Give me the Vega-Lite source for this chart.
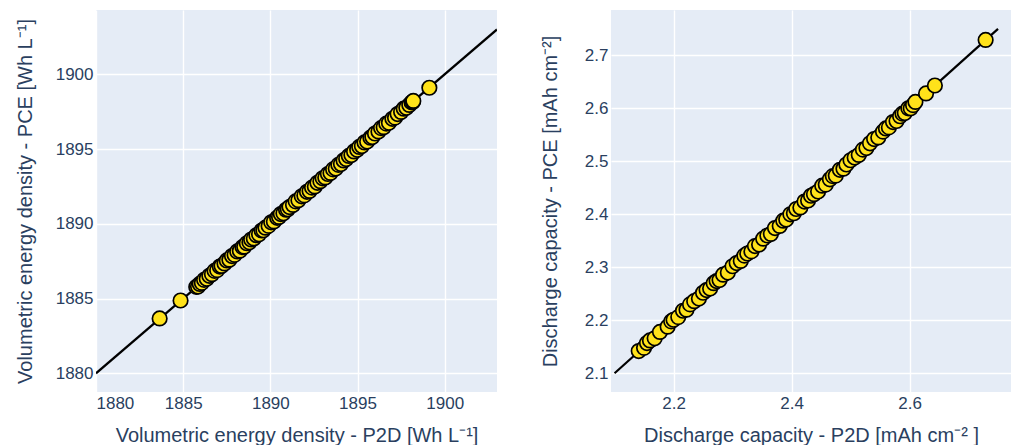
{
  "$schema": "https://vega.github.io/schema/vega-lite/v6.json",
  "padding": {"left": 15, "top": 10, "right": 0, "bottom": 0},
  "background": "white",
  "spacing": 114,
  "bounds": "flush",
  "config": {
    "font": "Liberation Sans",
    "view": {"fill": "#E5ECF6", "stroke": null},
    "axis": {
      "domain": false, "ticks": false, "grid": true, "gridColor": "#ffffff", "gridWidth": 1.4,
      "labelFont": "Liberation Sans", "labelFontSize": 17, "labelColor": "#2a3f5f",
      "titleFont": "Liberation Sans", "titleFontSize": 20, "titleColor": "#2a3f5f", "titleFontWeight": "normal",
      "labelPadding": 3
    }
  },
  "datasets": {
    "ved": [
      {"p2d": 1883.65, "pce": 1883.67}, {"p2d": 1884.85, "pce": 1884.87}, {"p2d": 1885.75, "pce": 1885.78}, {"p2d": 1885.85, "pce": 1885.8},
      {"p2d": 1885.95, "pce": 1885.98}, {"p2d": 1886.07, "pce": 1886.05}, {"p2d": 1886.2, "pce": 1886.25}, {"p2d": 1886.35, "pce": 1886.32},
      {"p2d": 1886.5, "pce": 1886.52}, {"p2d": 1886.65, "pce": 1886.63}, {"p2d": 1886.8, "pce": 1886.85}, {"p2d": 1886.95, "pce": 1886.9},
      {"p2d": 1887.1, "pce": 1887.14}, {"p2d": 1887.2, "pce": 1887.18}, {"p2d": 1887.37, "pce": 1887.35}, {"p2d": 1887.5, "pce": 1887.55},
      {"p2d": 1887.65, "pce": 1887.6}, {"p2d": 1887.8, "pce": 1887.84}, {"p2d": 1887.95, "pce": 1887.92}, {"p2d": 1888.1, "pce": 1888.15},
      {"p2d": 1888.25, "pce": 1888.2}, {"p2d": 1888.4, "pce": 1888.44}, {"p2d": 1888.5, "pce": 1888.47}, {"p2d": 1888.65, "pce": 1888.7},
      {"p2d": 1888.8, "pce": 1888.76}, {"p2d": 1888.9, "pce": 1888.95}, {"p2d": 1889.05, "pce": 1889.02}, {"p2d": 1889.2, "pce": 1889.24},
      {"p2d": 1889.35, "pce": 1889.3}, {"p2d": 1889.5, "pce": 1889.55}, {"p2d": 1889.6, "pce": 1889.57}, {"p2d": 1889.72, "pce": 1889.74},
      {"p2d": 1889.9, "pce": 1889.86}, {"p2d": 1890.05, "pce": 1890.1}, {"p2d": 1890.2, "pce": 1890.16}, {"p2d": 1890.39, "pce": 1890.4},
      {"p2d": 1890.5, "pce": 1890.46}, {"p2d": 1890.6, "pce": 1890.65}, {"p2d": 1890.75, "pce": 1890.7}, {"p2d": 1890.9, "pce": 1890.94},
      {"p2d": 1891.0, "pce": 1890.97}, {"p2d": 1891.1, "pce": 1891.12}, {"p2d": 1891.3, "pce": 1891.26}, {"p2d": 1891.45, "pce": 1891.5},
      {"p2d": 1891.61, "pce": 1891.58}, {"p2d": 1891.8, "pce": 1891.84}, {"p2d": 1891.95, "pce": 1891.9}, {"p2d": 1892.1, "pce": 1892.14},
      {"p2d": 1892.25, "pce": 1892.2}, {"p2d": 1892.39, "pce": 1892.42}, {"p2d": 1892.55, "pce": 1892.5}, {"p2d": 1892.7, "pce": 1892.74},
      {"p2d": 1892.87, "pce": 1892.85}, {"p2d": 1893.0, "pce": 1893.04}, {"p2d": 1893.15, "pce": 1893.1}, {"p2d": 1893.3, "pce": 1893.33},
      {"p2d": 1893.45, "pce": 1893.4}, {"p2d": 1893.6, "pce": 1893.64}, {"p2d": 1893.75, "pce": 1893.7}, {"p2d": 1893.9, "pce": 1893.94},
      {"p2d": 1894.05, "pce": 1894.0}, {"p2d": 1894.2, "pce": 1894.24}, {"p2d": 1894.35, "pce": 1894.33}, {"p2d": 1894.5, "pce": 1894.54},
      {"p2d": 1894.65, "pce": 1894.6}, {"p2d": 1894.8, "pce": 1894.84}, {"p2d": 1894.98, "pce": 1894.95}, {"p2d": 1895.1, "pce": 1895.14},
      {"p2d": 1895.25, "pce": 1895.2}, {"p2d": 1895.4, "pce": 1895.44}, {"p2d": 1895.55, "pce": 1895.5}, {"p2d": 1895.74, "pce": 1895.76},
      {"p2d": 1895.85, "pce": 1895.8}, {"p2d": 1896.0, "pce": 1896.04}, {"p2d": 1896.2, "pce": 1896.18}, {"p2d": 1896.35, "pce": 1896.4},
      {"p2d": 1896.5, "pce": 1896.46}, {"p2d": 1896.65, "pce": 1896.7}, {"p2d": 1896.8, "pce": 1896.76}, {"p2d": 1897.0, "pce": 1897.02},
      {"p2d": 1897.15, "pce": 1897.1}, {"p2d": 1897.3, "pce": 1897.34}, {"p2d": 1897.5, "pce": 1897.48}, {"p2d": 1897.65, "pce": 1897.7},
      {"p2d": 1897.8, "pce": 1897.76}, {"p2d": 1897.97, "pce": 1897.95}, {"p2d": 1898.1, "pce": 1898.12}, {"p2d": 1898.17, "pce": 1898.15},
      {"p2d": 1898.2, "pce": 1898.22}, {"p2d": 1899.12, "pce": 1899.1}
    ],
    "ved_line": [{"p2d": 1880, "pce": 1880}, {"p2d": 1903, "pce": 1903}],
    "cap": [
      {"p2d": 2.141, "pce": 2.142}, {"p2d": 2.15, "pce": 2.148}, {"p2d": 2.155, "pce": 2.157}, {"p2d": 2.16, "pce": 2.162},
      {"p2d": 2.168, "pce": 2.166}, {"p2d": 2.177, "pce": 2.178}, {"p2d": 2.19, "pce": 2.188}, {"p2d": 2.196, "pce": 2.198},
      {"p2d": 2.2, "pce": 2.201}, {"p2d": 2.208, "pce": 2.206}, {"p2d": 2.216, "pce": 2.218}, {"p2d": 2.222, "pce": 2.22},
      {"p2d": 2.228, "pce": 2.23}, {"p2d": 2.235, "pce": 2.236}, {"p2d": 2.243, "pce": 2.241}, {"p2d": 2.25, "pce": 2.252},
      {"p2d": 2.256, "pce": 2.257}, {"p2d": 2.262, "pce": 2.26}, {"p2d": 2.268, "pce": 2.27}, {"p2d": 2.273, "pce": 2.274},
      {"p2d": 2.278, "pce": 2.276}, {"p2d": 2.284, "pce": 2.286}, {"p2d": 2.292, "pce": 2.29}, {"p2d": 2.3, "pce": 2.302},
      {"p2d": 2.307, "pce": 2.308}, {"p2d": 2.314, "pce": 2.312}, {"p2d": 2.32, "pce": 2.322}, {"p2d": 2.325, "pce": 2.326},
      {"p2d": 2.332, "pce": 2.33}, {"p2d": 2.338, "pce": 2.34}, {"p2d": 2.345, "pce": 2.343}, {"p2d": 2.352, "pce": 2.354},
      {"p2d": 2.359, "pce": 2.36}, {"p2d": 2.365, "pce": 2.363}, {"p2d": 2.372, "pce": 2.374}, {"p2d": 2.38, "pce": 2.378},
      {"p2d": 2.386, "pce": 2.388}, {"p2d": 2.391, "pce": 2.39}, {"p2d": 2.398, "pce": 2.4}, {"p2d": 2.404, "pce": 2.402},
      {"p2d": 2.408, "pce": 2.41}, {"p2d": 2.415, "pce": 2.413}, {"p2d": 2.422, "pce": 2.424}, {"p2d": 2.428, "pce": 2.426},
      {"p2d": 2.433, "pce": 2.435}, {"p2d": 2.438, "pce": 2.438}, {"p2d": 2.445, "pce": 2.443}, {"p2d": 2.452, "pce": 2.454},
      {"p2d": 2.458, "pce": 2.456}, {"p2d": 2.465, "pce": 2.466}, {"p2d": 2.47, "pce": 2.472}, {"p2d": 2.475, "pce": 2.473},
      {"p2d": 2.482, "pce": 2.484}, {"p2d": 2.488, "pce": 2.486}, {"p2d": 2.493, "pce": 2.494}, {"p2d": 2.5, "pce": 2.502},
      {"p2d": 2.507, "pce": 2.507}, {"p2d": 2.514, "pce": 2.512}, {"p2d": 2.521, "pce": 2.522}, {"p2d": 2.527, "pce": 2.525},
      {"p2d": 2.533, "pce": 2.534}, {"p2d": 2.54, "pce": 2.542}, {"p2d": 2.547, "pce": 2.545}, {"p2d": 2.555, "pce": 2.556},
      {"p2d": 2.56, "pce": 2.562}, {"p2d": 2.565, "pce": 2.564}, {"p2d": 2.572, "pce": 2.574}, {"p2d": 2.578, "pce": 2.576},
      {"p2d": 2.584, "pce": 2.585}, {"p2d": 2.588, "pce": 2.59}, {"p2d": 2.592, "pce": 2.591}, {"p2d": 2.598, "pce": 2.6},
      {"p2d": 2.602, "pce": 2.6}, {"p2d": 2.606, "pce": 2.606}, {"p2d": 2.61, "pce": 2.612}, {"p2d": 2.628, "pce": 2.628},
      {"p2d": 2.643, "pce": 2.643}, {"p2d": 2.729, "pce": 2.729}
    ],
    "cap_line": [{"p2d": 2.1, "pce": 2.1}, {"p2d": 2.75, "pce": 2.75}]
  },
  "hconcat": [
    {
      "width": 401, "height": 382,
      "layer": [
        {
          "data": {"name": "ved_line"},
          "mark": {"type": "line", "color": "#000000", "strokeWidth": 2.2, "clip": true},
          "encoding": {
            "x": {"field": "p2d", "type": "quantitative"},
            "y": {"field": "pce", "type": "quantitative"}
          }
        },
        {
          "data": {"name": "ved"},
          "mark": {"type": "point", "filled": true, "fill": "#ffe21a", "stroke": "#000000", "strokeWidth": 1.7, "size": 210, "opacity": 1},
          "encoding": {
            "x": {"field": "p2d", "type": "quantitative",
              "scale": {"domain": [1880, 1903], "nice": false, "zero": false},
              "axis": {"values": [1880, 1885, 1890, 1895, 1900], "format": "d", "title": "Volumetric energy density - P2D [Wh L⁻¹]", "titlePadding": 14}},
            "y": {"field": "pce", "type": "quantitative",
              "scale": {"domain": [1878.75, 1904.3], "nice": false, "zero": false},
              "axis": {"values": [1880, 1885, 1890, 1895, 1900], "format": "d", "title": "Volumetric energy density - PCE [Wh L⁻¹]", "titlePadding": 20}}
          }
        }
      ]
    },
    {
      "width": 400, "height": 382,
      "layer": [
        {
          "data": {"name": "cap_line"},
          "mark": {"type": "line", "color": "#000000", "strokeWidth": 2.2, "clip": true},
          "encoding": {
            "x": {"field": "p2d", "type": "quantitative"},
            "y": {"field": "pce", "type": "quantitative"}
          }
        },
        {
          "data": {"name": "cap"},
          "mark": {"type": "point", "filled": true, "fill": "#ffe21a", "stroke": "#000000", "strokeWidth": 1.7, "size": 210, "opacity": 1},
          "encoding": {
            "x": {"field": "p2d", "type": "quantitative",
              "scale": {"domain": [2.094, 2.772], "nice": false, "zero": false},
              "axis": {"values": [2.2, 2.4, 2.6], "format": ".1f", "title": "Discharge capacity - P2D [mAh cm⁻² ]", "titlePadding": 14}},
            "y": {"field": "pce", "type": "quantitative",
              "scale": {"domain": [2.0647, 2.7855], "nice": false, "zero": false},
              "axis": {"values": [2.1, 2.2, 2.3, 2.4, 2.5, 2.6, 2.7], "format": ".1f", "title": "Discharge capacity - PCE [mAh cm⁻²]", "titlePadding": 24}}
          }
        }
      ]
    }
  ]
}
